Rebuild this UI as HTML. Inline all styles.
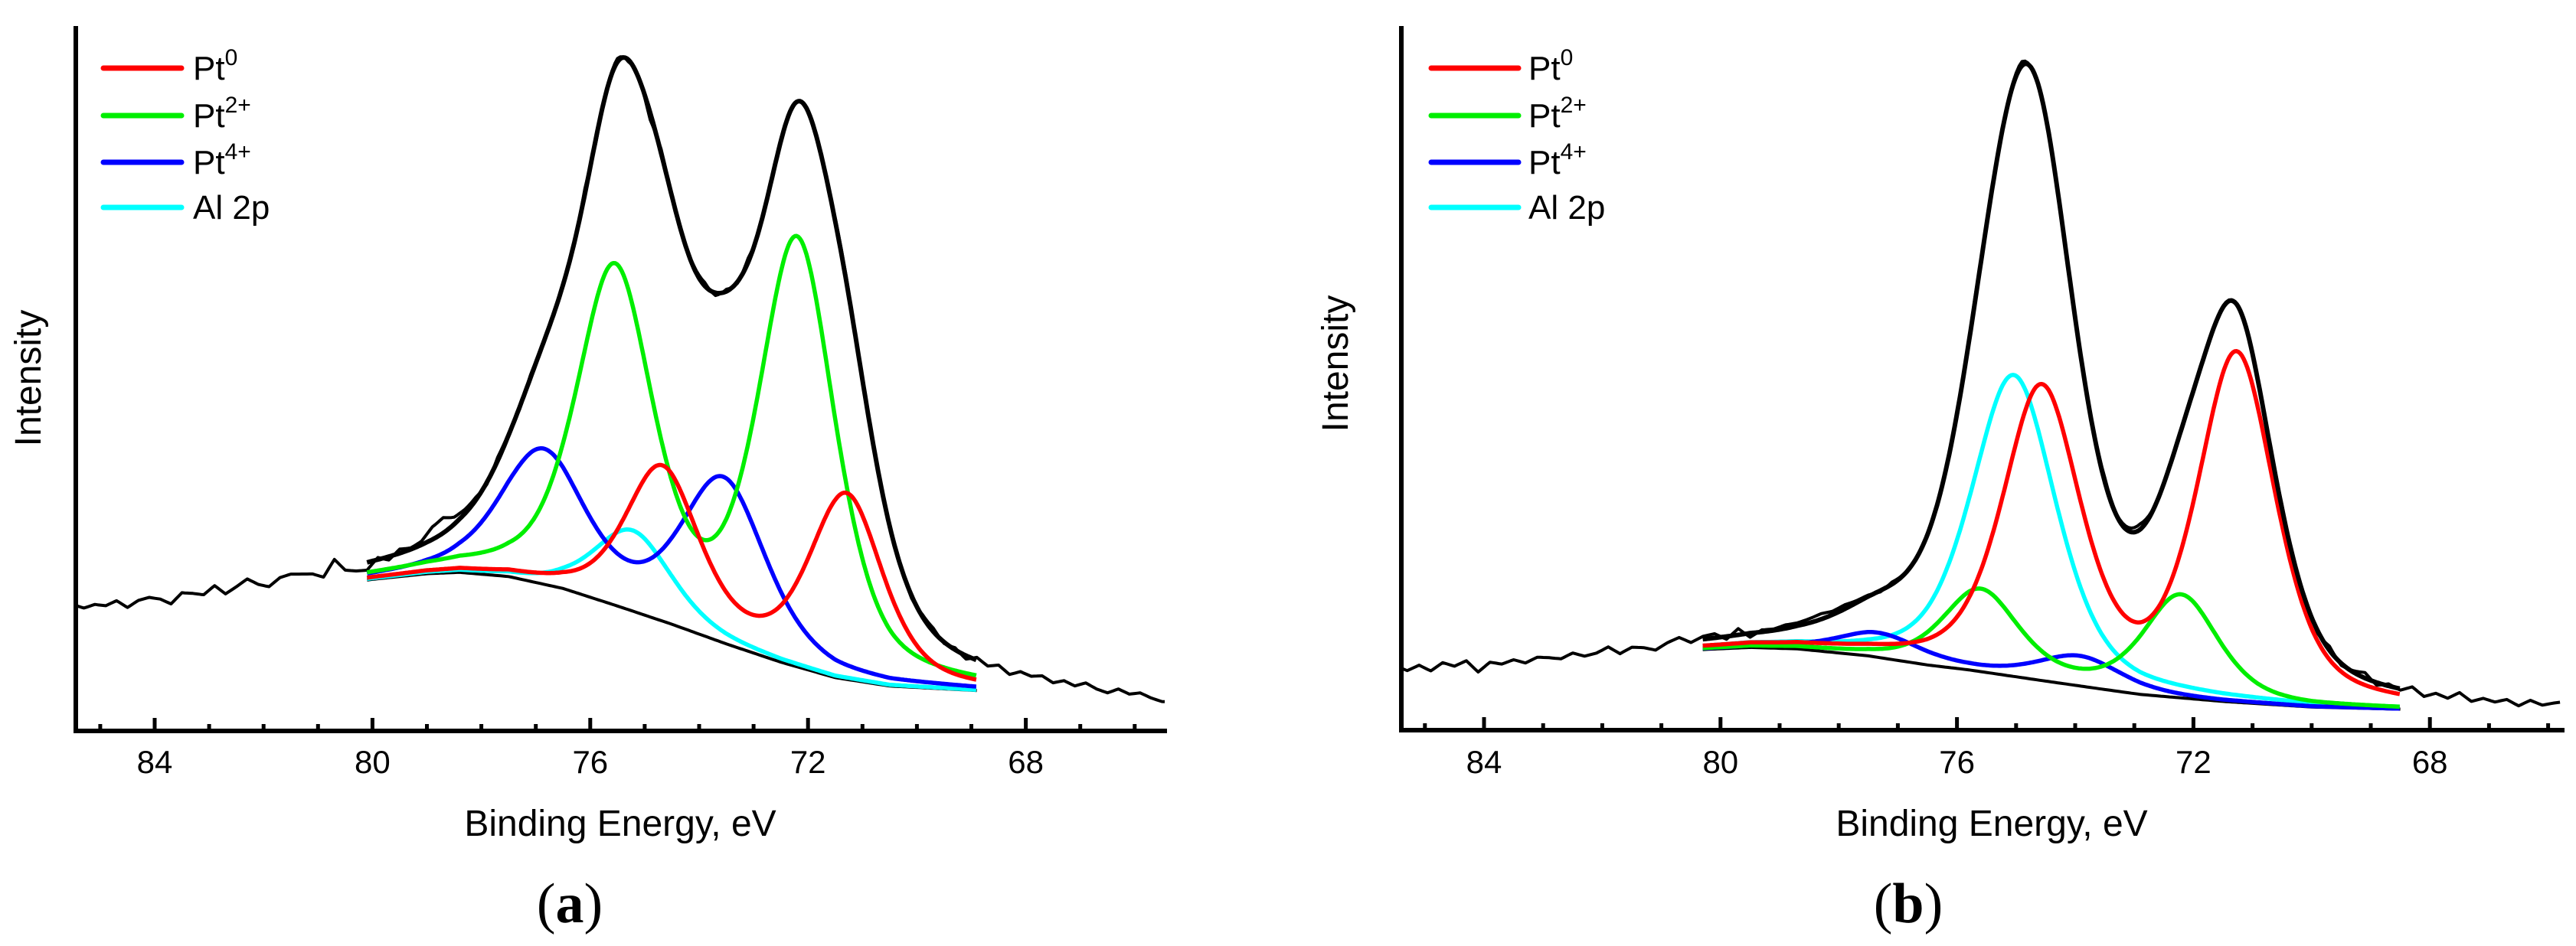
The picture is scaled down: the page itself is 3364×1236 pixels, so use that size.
<!DOCTYPE html>
<html><head><meta charset="utf-8">
<style>
html,body{margin:0;padding:0;background:#fff;}
svg{display:block;}
text{font-family:"Liberation Sans",Arial,sans-serif;fill:#000;}
</style></head>
<body>
<svg id="fig" width="3364" height="1236" viewBox="0 0 3364 1236" xmlns="http://www.w3.org/2000/svg"></svg>
<script>
// ---------- Panel (a) data ----------
const bgA_E = [85.5,84,82,80,79,78.4,77.5,76.5,75.5,74.5,73.5,72.5,71.5,70.5,69.5,68.5,67,65.5];
const bgA_V = [17.2,17.9,19.5,21.6,22.4,22.6,22.0,20.3,17.8,15.2,12.4,9.8,7.6,6.4,6.0,5.6,4.7,3.6];
const pt0A_centers = [74.68,71.30];  const pt0A_amps = [21.5,26];  const pt0A_w = 0.80;
const pt2A_centers = [75.55,72.20];  const pt2A_amps = [47,60];    const pt2A_w = 0.83;
const pt4A_centers = [76.87,73.55];  const pt4A_amps = [18.5,23];  const pt4A_w = 0.92;
const alA_centers = [75.22];         const alA_amps = [11.5];      const alA_w = 0.85;
const noiseA = [0.2,-0.4,0,-0.3,0.3,-0.8,0.1,0.4,0,-0.9,0.5,0.2,-0.2,0.9,-0.5,0.3,1.2,0.2,-0.4,0.6,
 0.8,0.5,0.2,-0.6,1.6,-0.3,-0.8,-1.1,0.3,-0.5,0.6,0.2,0.5,1.8,2.2,1.0,0.6,0.4,-0.3,0.5,
 0.2,-0.3,0.4,0.1,-0.2,0.3,-0.4,0.8,-0.6,0.2,0.5,-0.3,0.2,-1.0,0.6,0.2,-0.2,0.3,0.5,-0.4,
 0.3,-0.2,0.6,-0.3,0.2,0.4,-0.2,0.1,0.3,-0.2,0.5,0.6,0.3,-0.3,0.2,0.1,0.2,-0.4,0.3,0.5,
 -0.2,0.3,-0.5,0.4,-0.3,0.3,-0.6,0.2,-0.1,0.3,-0.4,0.2,-0.3,0.4,-0.2,-0.5,0.3,-0.2,0.2,-0.3,-0.6];

// ---------- Panel (b) data ----------
const bgB_E = [85.5,84,82,80.3,79.5,78.7,77.5,76.5,75.8,74.5,73.5,72.9,71.5,70,68.5,67,65.5];
const bgB_V = [8.5,9.0,10.0,11.5,11.8,11.6,10.6,9.3,8.6,7.0,5.8,5.1,4.1,3.3,3.0,2.8,2.6];
const pt0B_centers = [74.57,71.27];  const pt0B_amps = [41,49];    const pt0B_w = 0.78;
const pt2B_centers = [75.60,72.21];  const pt2B_amps = [11.5,14.5];const pt2B_w = 0.75;
const pt4B_centers = [77.33,73.92];  const pt4B_amps = [3.4,4.2];  const pt4B_w = 0.85;
const alB_centers = [75.04];         const alB_amps = [43];        const alB_w = 0.85;
const noiseB = [0.3,-0.5,0.2,-0.7,0.4,-0.2,0.5,-1.2,0.1,-0.3,0.2,-0.4,0.3,0.1,-0.2,0.5,-0.1,0.2,0.9,-0.3,
 0.4,0.1,-0.5,0.3,0.8,-0.2,0.4,0.6,-0.4,0.9,-0.6,0.3,0.2,0.5,0.4,0.6,0.8,0.5,0.6,0.3,
 0.2,-0.2,0.3,0.1,-0.2,0.2,0.1,0.3,0.2,0.6,0.2,0.4,0.3,0.6,-0.2,0.2,0.3,-0.2,0.4,0.3,
 0.6,0.2,0.5,0.8,0.2,0.1,-0.2,0.3,0.2,-0.3,0.2,0.1,0.4,-0.2,0.3,0.5,-0.3,0.2,-0.4,0.6,
 -0.3,0.2,0.8,-0.4,0.3,-0.2,0.6,-0.5,0.2,-0.3,0.7,-0.4,0.2,-0.2,0.3,-0.5,0.4,-0.2,0.2,0.5,-0.7];

const tickMajor = [84,80,76,72,68];
const tickMinor = [85,83,82,81,79,78,77,75,74,73,71,70,69,67,66];
const legendLabels = [["Pt","0"],["Pt","2+"],["Pt","4+"],["Al 2p",""]];
const compColors = ["#ff0000","#00ee00","#0000ff","#00ffff"];
const LORENTZ = 0.5;

const NS = "http://www.w3.org/2000/svg";
const svg = document.getElementById('fig');
function mk(tag, attrs, parent){
  const e = document.createElementNS(NS, tag);
  for (const k in attrs) e.setAttribute(k, attrs[k]);
  (parent||svg).appendChild(e);
  return e;
}
function interp(xs, ys, x){
  if (x >= xs[0]) return ys[0];
  for (let i=1;i<xs.length;i++){
    if (x >= xs[i]){ const t=(x-xs[i-1])/(xs[i]-xs[i-1]); return ys[i-1]+t*(ys[i]-ys[i-1]); }
  }
  return ys[ys.length-1];
}
function gl(E, c, w){ const d=(E-c)/w; return (1-LORENTZ)*Math.exp(-Math.LN2*d*d) + LORENTZ/(1+d*d); }
function peaks(E, cs, as, w){ let s=0; for(let i=0;i<cs.length;i++) s+=as[i]*gl(E,cs[i],w); return s; }

function drawPanel(p){
  const g = mk('g', {});
  
  
  const X = E => p.x84 + (84 - E) * p.pxPerEv;
  const Y = v => p.yBase - v * p.pxPerUnit;
  const Emin = 84 - (p.xRight - p.x84)/p.pxPerEv;
  const Emax = 84 + (p.x84 - p.xLeft)/p.pxPerEv;
  const bg = E => interp(p.bgE, p.bgV, E);
  const comps = p.comps.map(c => (E => peaks(E, c[0], c[1], c[2])));
  const env = E => bg(E) + comps.reduce((s,f)=>s+f(E),0);
  const noise = E => { const idx=(85.5-E)/0.2; const i=Math.max(0,Math.min(p.noise.length-2,Math.floor(idx))); const t=Math.max(0,Math.min(1,idx-i)); return p.noise[i]*(1-t)+p.noise[i+1]*t; };
  function path(f, e0, e1, step){
    let d=''; for(let E=e0;E>=e1-1e-9;E-=step){ d += (d?'L':'M') + X(E).toFixed(1)+','+Y(f(E)).toFixed(1); } return d;
  }
  const raw = mk('path', {d:path(E=>env(E)+noise(E), Emax, Emin, 0.05), fill:'none', stroke:'#000', 'stroke-width':4, 'stroke-linejoin':'round'}, g);
  
  
  const bgl = mk('path', {d:path(bg, p.fit[0], p.fit[1], 0.05), fill:'none', stroke:'#000', 'stroke-width':4}, g);
  
  
  const names = ['pt0-component','pt2-component','pt4-component','al2p-component'];
  [3,2,1,0].forEach(i => {
    const c = mk('path', {d:path(E=>bg(E)+comps[i](E), p.fit[0], p.fit[1], 0.03), fill:'none', stroke:compColors[i], 'stroke-width':5.5, 'stroke-linejoin':'round'}, g);
    
    
  });
  const en = mk('path', {d:path(env, p.fit[0], p.fit[1], 0.03), fill:'none', stroke:'#000', 'stroke-width':6, 'stroke-linejoin':'round'}, g);
  
  
  const ax = mk('path', {d:`M${p.xLeft},37 L${p.xLeft},${p.yBase} L${p.xRight},${p.yBase}`, fill:'none', stroke:'#000', 'stroke-width':6, 'stroke-linecap':'square'}, g);
  
  
  tickMajor.forEach(t => {
    const l = mk('line', {x1:X(t), x2:X(t), y1:p.yBase, y2:p.yBase-17, stroke:'#000', 'stroke-width':5}, g);
    
    
    const tx = mk('text', {x:X(t), y:1010, 'font-size':42, 'text-anchor':'middle'}, g);
    tx.textContent = t;
    
    
  });
  tickMinor.forEach(t => {
    const l = mk('line', {x1:X(t), x2:X(t), y1:p.yBase, y2:p.yBase-9, stroke:'#000', 'stroke-width':5}, g);
    
    
  });
  const xt = mk('text', {x:p.titleX, y:1092, 'font-size':48, 'text-anchor':'middle'}, g);
  xt.textContent = 'Binding Energy, eV';
  
  
  const yt = mk('text', {x:0, y:0, 'font-size':48, 'text-anchor':'middle', transform:`translate(${p.yLabX},${p.yLabY}) rotate(-90)`}, g);
  yt.textContent = 'Intensity';
  
  
  const pl = mk('text', {x:p.panelX, y:1205, 'font-size':74, 'text-anchor':'middle', style:'font-family:"Liberation Serif",serif'}, g);
  pl.innerHTML = '(<tspan font-weight="bold">'+p.letter+'</tspan>)';
  
  
  const ly = [89,151,212,271];
  legendLabels.forEach((lab, i) => {
    const le = mk('g', {}, g);
    
    
    mk('line', {x1:p.legX0, x2:p.legX1, y1:ly[i], y2:ly[i], stroke:compColors[i], 'stroke-width':7, 'stroke-linecap':'round'}, le);
    const t = mk('text', {x:p.legTx, y:ly[i]+15, 'font-size':44}, le);
    t.textContent = lab[0];
    if (lab[1]) { const s = mk('tspan', {'font-size':30, dy:-19}, t); s.textContent = lab[1]; }
  });
}

drawPanel({name:'panel-a', letter:'a', x84:202, pxPerEv:71.1, xLeft:99, xRight:1521, yBase:955, pxPerUnit:9.17,
  bgE:bgA_E, bgV:bgA_V, noise:noiseA, fit:[80.1,68.9],
  comps:[[pt0A_centers,pt0A_amps,pt0A_w],[pt2A_centers,pt2A_amps,pt2A_w],[pt4A_centers,pt4A_amps,pt4A_w],[alA_centers,alA_amps,alA_w]],
  titleX:810, yLabX:53, yLabY:494, panelX:744, legX0:135, legX1:237, legTx:252});
drawPanel({name:'panel-b', letter:'b', x84:1938, pxPerEv:77.2, xLeft:1830, xRight:3346, yBase:954, pxPerUnit:9.16,
  bgE:bgB_E, bgV:bgB_V, noise:noiseB, fit:[80.3,68.5],
  comps:[[pt0B_centers,pt0B_amps,pt0B_w],[pt2B_centers,pt2B_amps,pt2B_w],[pt4B_centers,pt4B_amps,pt4B_w],[alB_centers,alB_amps,alB_w]],
  titleX:2601, yLabX:1760, yLabY:475, panelX:2492, legX0:1869, legX1:1983, legTx:1996});
</script>
</body></html>
